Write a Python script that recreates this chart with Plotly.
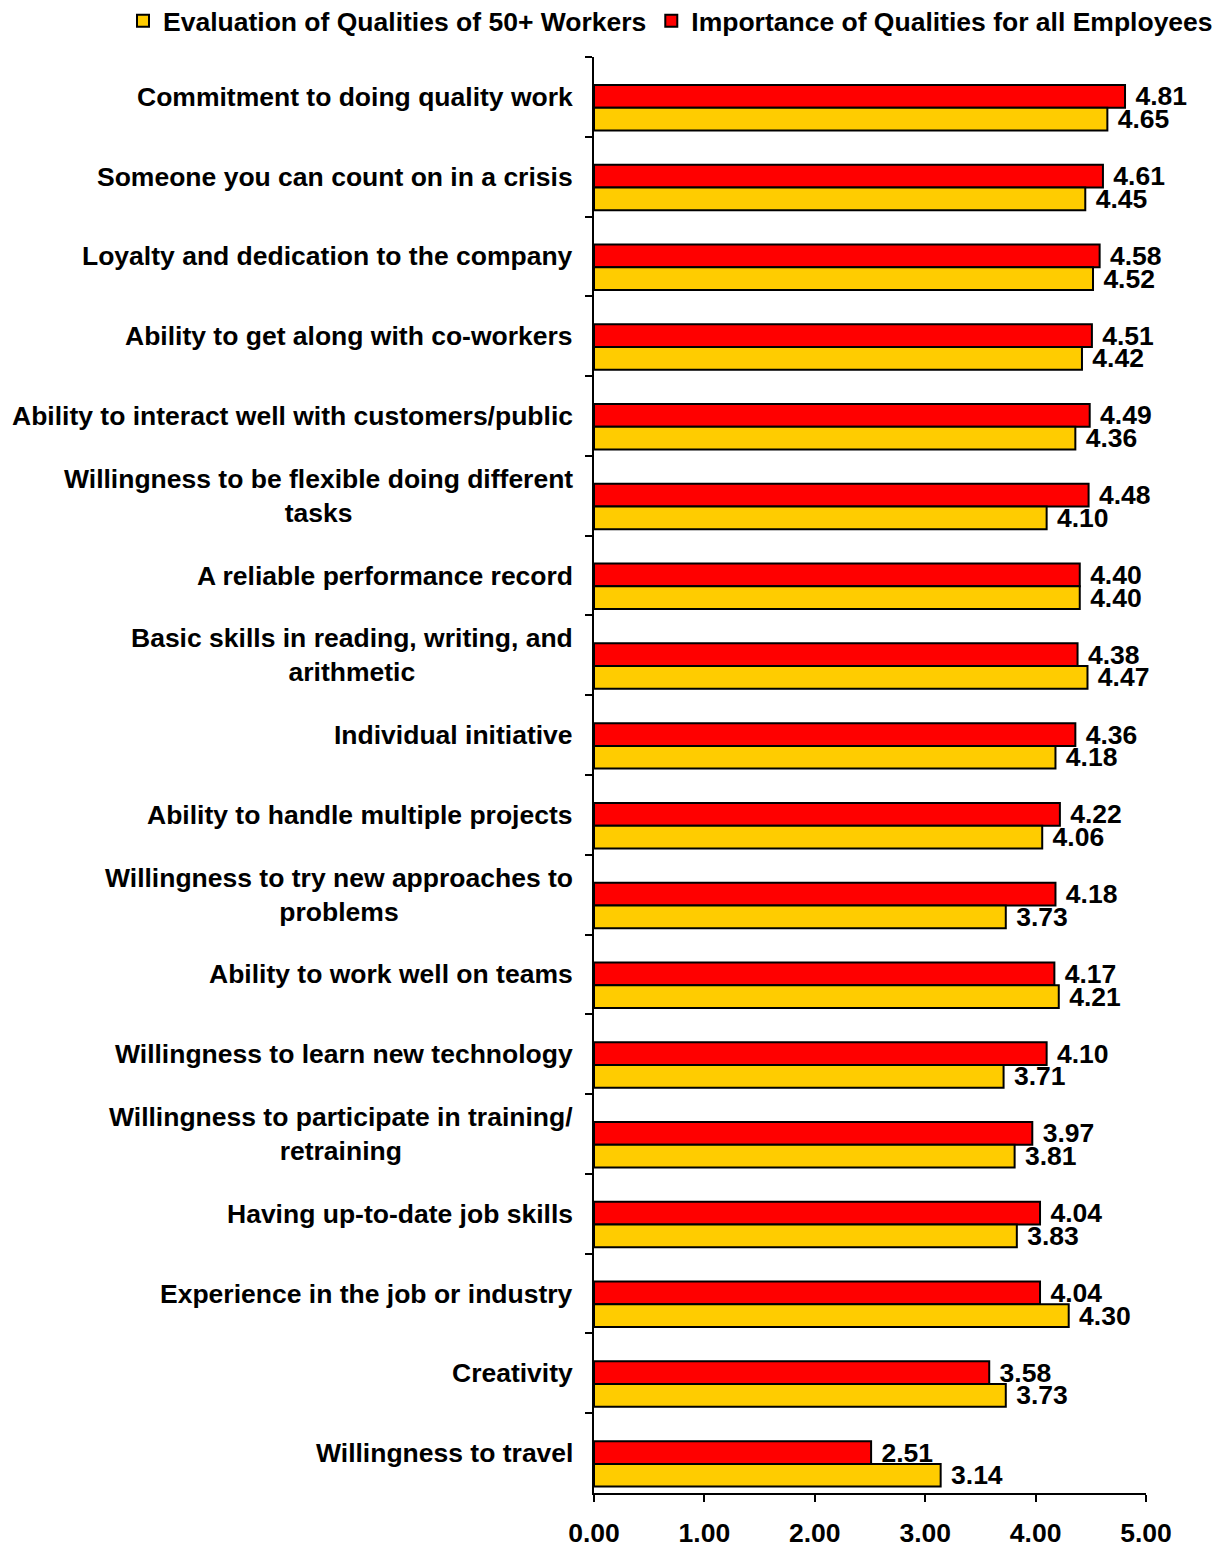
import plotly.graph_objects as go

# Survey qualities, top to bottom
qualities = [
    "Commitment to doing quality work",
    "Someone you can count on in a crisis",
    "Loyalty and dedication to the company",
    "Ability to get along with co-workers",
    "Ability to interact well with customers/public",
    "Willingness to be flexible doing different<br>tasks",
    "A reliable performance record",
    "Basic skills in reading, writing, and<br>arithmetic",
    "Individual initiative",
    "Ability to handle multiple projects",
    "Willingness to try new approaches to<br>problems",
    "Ability to work well on teams",
    "Willingness to learn new technology",
    "Willingness to participate in training/<br>retraining",
    "Having up-to-date job skills",
    "Experience in the job or industry",
    "Creativity",
    "Willingness to travel",
]

importance_all = [4.81, 4.61, 4.58, 4.51, 4.49, 4.48, 4.40, 4.38, 4.36,
                  4.22, 4.18, 4.17, 4.10, 3.97, 4.04, 4.04, 3.58, 2.51]
evaluation_50plus = [4.65, 4.45, 4.52, 4.42, 4.36, 4.10, 4.40, 4.47, 4.18,
                     4.06, 3.73, 4.21, 3.71, 3.81, 3.83, 4.30, 3.73, 3.14]

x_ticks = [0, 1, 2, 3, 4, 5]

FONT = "Liberation Sans, Arial, sans-serif"
FSIZE = 26.5
RED = "#FF0000"
YELLOW = "#FFCC00"

fig = go.Figure()

common = dict(
    orientation="h",
    textposition="outside",
    texttemplate=" %{x:.2f}",
    textfont=dict(family=FONT, size=FSIZE, color="black", weight="bold"),
    constraintext="none",
    cliponaxis=False,
    width=0.285,
)

fig.add_trace(go.Bar(
    name="Importance of Qualities for all Employees",
    y=qualities, x=importance_all,
    marker=dict(color=RED, line=dict(color="black", width=2)),
    offset=-0.15, legendrank=2, **common,
))
fig.add_trace(go.Bar(
    name="Evaluation of Qualities of 50+ Workers",
    y=qualities, x=evaluation_50plus,
    marker=dict(color=YELLOW, line=dict(color="black", width=2)),
    offset=0.135, legendrank=1, **common,
))

# Category labels, centred line by line and right-aligned to the axis
for q in qualities:
    fig.add_annotation(
        x=0, y=q, xref="x", yref="y",
        text=q, showarrow=False,
        xanchor="right", yanchor="middle", align="center",
        xshift=-19,
        font=dict(family=FONT, size=FSIZE, color="black", weight="bold"),
    )

fig.update_layout(
    width=1216, height=1547,
    margin=dict(l=594, r=70, t=57, b=54, autoexpand=False),
    paper_bgcolor="white", plot_bgcolor="white",
    barmode="overlay",
    font=dict(family=FONT, size=FSIZE, color="black", weight="bold"),
    showlegend=True,
    legend=dict(
        orientation="h",
        x=(123 - 594) / 552, xanchor="left",
        y=1 + (57 - 21) / 1436, yanchor="middle",
        font=dict(family=FONT, size=FSIZE, color="black", weight="bold"),
        bgcolor="rgba(0,0,0,0)",
        itemwidth=30,
    ),
)

fig.update_xaxes(
    range=[0, 5],
    tickvals=x_ticks,
    tickformat=".2f",
    ticks="outside", ticklen=7, tickwidth=2, tickcolor="black",
    showline=True, linecolor="black", linewidth=2,
    showgrid=False, zeroline=False,
    tickfont=dict(family=FONT, size=FSIZE, color="black", weight="bold"),
    ticklabelstandoff=8,
)

fig.update_yaxes(
    type="category",
    categoryorder="array", categoryarray=qualities,
    range=[len(qualities) - 0.5, -0.5],
    tickson="boundaries",
    ticks="outside", ticklen=7, tickwidth=2, tickcolor="black",
    showticklabels=False,
    showline=True, linecolor="black", linewidth=2,
    showgrid=False, zeroline=False,
)

fig.write_html("out.html")
